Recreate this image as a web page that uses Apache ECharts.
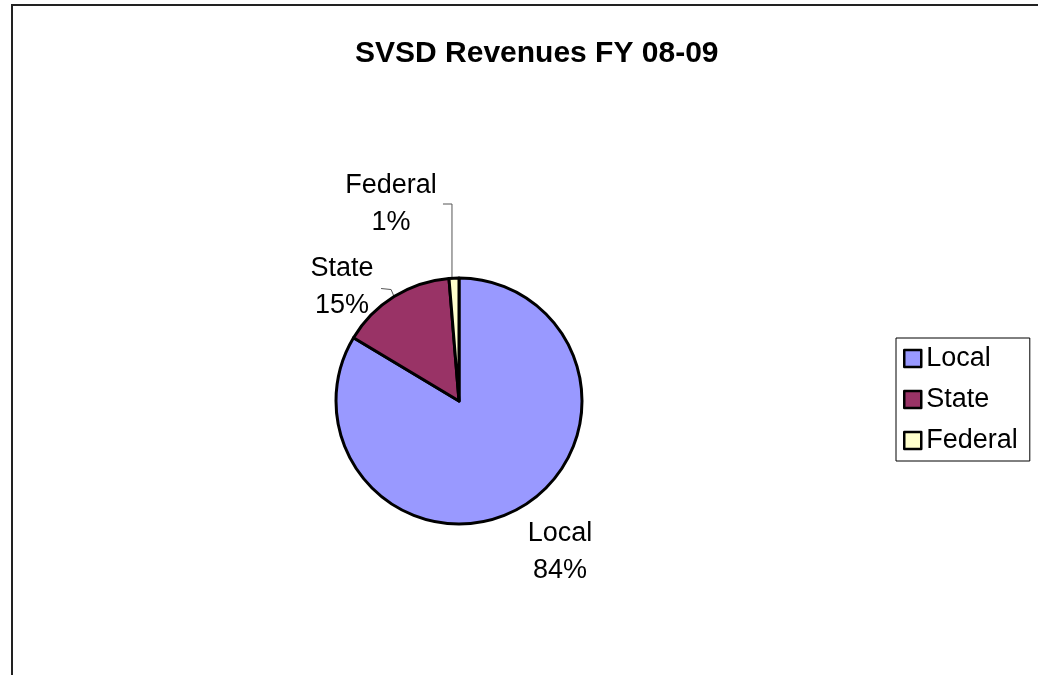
<!DOCTYPE html>
<html>
<head>
<meta charset="utf-8">
<title>SVSD Revenues FY 08-09</title>
<script src="https://cdn.jsdelivr.net/npm/echarts@6/dist/echarts.min.js"></script>
<style>
    html, body { margin: 0; padding: 0; background: #fff; }
    #chart { width: 1038px; height: 675px; }
</style>
</head>
<body>
<div id="chart"></div>
<script>
// ====================== data ======================
var titleText = 'SVSD Revenues FY 08-09';
var categories = ['Local', 'State', 'Federal'];
var shares = [83.6, 15.1, 1.3];
var colors = ['#9999ff', '#993366', '#ffffcc'];

// label centres (layout only), index = category
var labelCenter = [[560, 552], [342, 287], [391, 204]];

var chart = echarts.init(document.getElementById('chart'));

var pieData = [];
for (var i = 0; i < categories.length; i++) {
    pieData.push({ name: categories[i], value: shares[i], itemStyle: { color: colors[i] } });
}

var option = {
    backgroundColor: '#fff',
    animation: false,
    textStyle: { fontFamily: '"Liberation Sans", Arial, sans-serif' },
    title: {
        text: titleText,
        left: 355,
        top: 39,
        padding: 0,
        textStyle: { fontSize: 30, fontWeight: 'bold', color: '#000' }
    },
    legend: {
        orient: 'vertical',
        left: 896,
        top: 338,
        padding: [7, 12, 7, 7],
        itemGap: 14,
        itemWidth: 17,
        itemHeight: 17,
        itemTextGap: 10,
        icon: 'rect',
        borderColor: '#000',
        borderWidth: 1,
        itemStyle: { borderColor: '#000', borderWidth: 2.5 },
        textStyle: { fontSize: 27, color: '#000' },
        data: categories
    },
    graphic: [{
        type: 'rect',
        shape: { x: 12, y: 5, width: 1200, height: 1000 },
        style: { fill: 'none', stroke: '#222', lineWidth: 2 },
        silent: true
    }],
    series: [{
        type: 'pie',
        center: [459, 401],
        radius: 123,
        startAngle: 90,
        clockwise: true,
        data: pieData,
        itemStyle: { borderColor: '#000', borderWidth: 3 },
        emphasis: { disabled: true },
        label: {
            show: true,
            position: 'outside',
            fontSize: 27,
            lineHeight: 37,
            color: '#000',
            formatter: function (p) {
                return p.name + '\n' + Math.round(p.percent) + '%';
            }
        },
        labelLine: {
            show: true,
            length: 10,
            length2: 10,
            lineStyle: { color: '#555', width: 1 }
        },
        labelLayout: function (params) {
            var idx = params.dataIndex;
            var c = labelCenter[idx];
            var res = { x: c[0], y: c[1], align: 'center', verticalAlign: 'middle' };
            var p0 = params.labelLinePoints ? params.labelLinePoints[0] : null;
            if (!p0) {
                return res;
            }
            if (idx === 0) {
                // Local: no leader line
                res.labelLinePoints = [p0, p0, p0];
            } else if (idx === 1) {
                res.labelLinePoints = [p0, [p0[0] - 3, p0[1] - 7], [p0[0] - 13, p0[1] - 8]];
            } else {
                res.labelLinePoints = [[p0[0] - 2, p0[1]], [p0[0] - 2, c[1]], [p0[0] - 11, c[1]]];
            }
            return res;
        }
    }]
};

chart.setOption(option);
</script>
</body>
</html>
